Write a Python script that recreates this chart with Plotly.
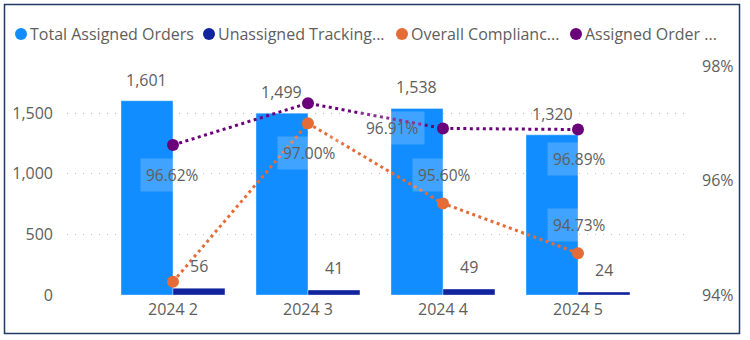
import plotly.graph_objects as go

# ---- data ----
categories = ["2024 2", "2024 3", "2024 4", "2024 5"]
total_assigned = [1601, 1499, 1538, 1320]
unassigned_tracking = [56, 41, 49, 24]
overall_compliance = [94.23, 97.00, 95.60, 94.73]   # %
assigned_order = [96.62, 97.35, 96.91, 96.89]       # %
legend_names = ["Total Assigned Orders", "Unassigned Tracking...",
                "Overall Complianc...", "Assigned Order ..."]
left_ticks = [0, 500, 1000, 1500]
right_ticks = [94, 96, 98]

# ---- style ----
W, H = 750, 340
ML, MR, MT, MB = 67, 64, 60, 45
PW, PH = W - ML - MR, H - MT - MB
C_TOTAL, C_UNAS, C_COMP, C_ASSN = "#118DFF", "#12239E", "#E66C37", "#6B007B"
TXT = "#605E5C"
FONT = "Segoe UI, Open Sans, sans-serif"
BAR_HALF = 26

def px_x(px):
    return (px - ML) / PW

def px_y(py):
    return 1 - (py - MT) / PH

fig = go.Figure()
fig.add_bar(x=categories, y=total_assigned, name=legend_names[0],
            marker=dict(color=C_TOTAL, line=dict(color="rgba(255,255,255,0.35)", width=1)),
            showlegend=False, hoverinfo="skip")
fig.add_bar(x=categories, y=unassigned_tracking, name=legend_names[1],
            marker=dict(color=C_UNAS, line=dict(color="rgba(255,255,255,0.35)", width=1)),
            showlegend=False, hoverinfo="skip")
fig.add_scatter(x=categories, y=overall_compliance, yaxis="y2", mode="lines+markers",
                line=dict(color=C_COMP, width=3, dash="3px,3.5px"),
                marker=dict(color=C_COMP, size=12), showlegend=False, name=legend_names[2])
fig.add_scatter(x=categories, y=assigned_order, yaxis="y2", mode="lines+markers",
                line=dict(color=C_ASSN, width=3, dash="3px,3.5px"),
                marker=dict(color=C_ASSN, size=12), showlegend=False, name=legend_names[3])

ann = []
# bar value labels
for c, v in zip(categories, total_assigned):
    ann.append(dict(x=c, y=v, xref="x", yref="y", text=f"{v:,}", showarrow=False,
                    xshift=-BAR_HALF, yshift=21, font=dict(size=16, color=TXT, family=FONT)))
for c, v in zip(categories, unassigned_tracking):
    ann.append(dict(x=c, y=v, xref="x", yref="y", text=f"{v:,}", showarrow=False,
                    xshift=BAR_HALF, yshift=22, font=dict(size=16, color=TXT, family=FONT)))

# line value labels (those shown in the reference)
line_labels = [
    (0, assigned_order, 0, -30),
    (1, overall_compliance, 2, -30),
    (2, assigned_order, -50, 0),
    (2, overall_compliance, 2, 28),
    (3, assigned_order, 1, -29),
    (3, overall_compliance, 1, 28),
]
for i, series, dx, dy in line_labels:
    ann.append(dict(x=categories[i], y=series[i], xref="x", yref="y2",
                    text=f"{series[i]:.2f}%", showarrow=False, xshift=dx, yshift=dy,
                    bgcolor="rgba(255,255,255,0.2)", borderpad=5,
                    font=dict(size=15.5, color=TXT, family=FONT)))

# legend
leg_cx = [21, 209, 402, 576]
leg_cols = [C_TOTAL, C_UNAS, C_COMP, C_ASSN]
shapes = []
for cx, col, name in zip(leg_cx, leg_cols, legend_names):
    shapes.append(dict(type="circle", xref="paper", yref="paper",
                       xsizemode="pixel", ysizemode="pixel",
                       xanchor=px_x(cx), yanchor=px_y(34),
                       x0=-6, x1=6, y0=-6, y1=6,
                       fillcolor=col, line=dict(width=0)))
    ann.append(dict(x=px_x(cx + 7), y=px_y(34), xref="paper", yref="paper",
                    xanchor="left", yanchor="middle", text=name, showarrow=False,
                    font=dict(size=16, color=TXT, family=FONT)))

# frame
shapes.append(dict(type="rect", xref="paper", yref="paper",
                   x0=px_x(4.5), x1=px_x(739.5), y0=px_y(333.5), y1=px_y(4.5),
                   line=dict(color="#1F3A63", width=1.5), fillcolor="rgba(0,0,0,0)",
                   layer="below"))

fig.update_layout(
    width=W, height=H, autosize=False,
    margin=dict(l=ML, r=MR, t=MT, b=MB),
    paper_bgcolor="white", plot_bgcolor="white",
    barmode="group", bargap=0.23, bargroupgap=0,
    font=dict(family=FONT, color=TXT, size=16),
    showlegend=False,
    xaxis=dict(type="category", range=[-0.785, 3.8], showgrid=False, zeroline=False,
               showline=False, ticks="", tickfont=dict(size=16, color=TXT),
               ticklabelstandoff=3),
    yaxis=dict(range=[0, PH / 0.12133], tickvals=left_ticks,
               ticktext=[f"{t:,}" for t in left_ticks],
               showgrid=True, gridcolor="#BDBBB9", griddash="1px,7px", gridwidth=1,
               zeroline=False, showline=False, ticks="", ticklabelstandoff=13,
               tickfont=dict(size=16, color=TXT)),
    yaxis2=dict(overlaying="y", side="right", range=[94, 94 + PH / 57.25],
                tickvals=right_ticks, ticktext=[f"{t}%" for t in right_ticks],
                showgrid=False, zeroline=False, showline=False, ticks="",
                ticklabelstandoff=15, tickfont=dict(size=16, color=TXT)),
    annotations=ann, shapes=shapes,
)

fig.write_html("out.html")
